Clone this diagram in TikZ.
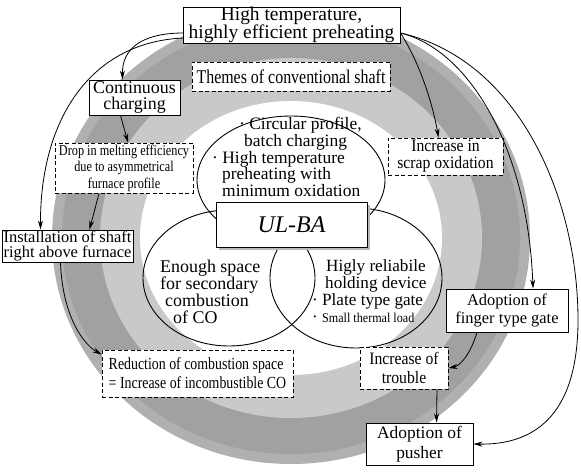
\documentclass[tikz,border=0pt]{standalone}
\usepackage{fontspec}
\setmainfont{Liberation Serif}
\newfontfamily\condA[FakeStretch=0.82]{Liberation Serif}
\newfontfamily\condB[FakeStretch=0.9]{Liberation Serif}
\usetikzlibrary{arrows.meta,calc}
\newcommand\myfs[2]{\fontsize{#1}{#2}\selectfont}
\begin{document}
\begin{tikzpicture}[x=1bp,y=-1bp,
  solidbox/.style={draw,line width=0.9bp,fill=white,inner sep=0pt,align=center},
  dashbox/.style={draw,dash pattern=on 4bp off 2.5bp,line width=0.9bp,fill=white,inner sep=0pt,align=center},
  arr/.style={-{Stealth[length=9bp,width=5bp]},line width=0.8bp},
  venn/.style={line width=0.9bp},
  vtext/.style={anchor=west,inner sep=0pt,align=left},
]
\useasboundingbox (0,0) rectangle (581,473);
\fill[white] (0,0) rectangle (581,473);
% rings
\fill[gray!62] (291,238) ellipse [x radius=239,y radius=226];
\fill[gray!74] (291,238) ellipse [x radius=229,y radius=216];
\fill[gray!42] (291,238) ellipse [x radius=191,y radius=180];
\fill[white] (291,238) ellipse [x radius=151,y radius=137];
% Venn
\draw[venn] (291,180) ellipse [x radius=94,y radius=64];
\draw[venn] (229,278) ellipse [x radius=86,y radius=68];
\draw[venn] (356,278) ellipse [x radius=86,y radius=70];
% UL-BA
\fill[gray!55] (219,205) rectangle (370,250);
\node[solidbox,minimum width=151bp,minimum height=45bp,font=\itshape\myfs{24}{24}] (ulba) at (291.5,224.5) {UL-BA};
% Venn texts
\node[vtext,font=\myfs{17.5}{15.8}] (vt) at (212,157) {\hspace*{27bp}· Circular profile,\\\hspace*{32bp}batch charging\\· High temperature\\\hspace*{10bp}preheating with\\\hspace*{10bp}minimum oxidation};
\node[vtext,font=\myfs{18}{17}] (vl) at (160,292) {Enough space\\for secondary\\\hspace*{5bp}combustion\\\hspace*{13bp}of CO};
\node[vtext,font=\myfs{17.2}{17}] (vr) at (312,291) {\hspace*{14bp}Higly reliabile\\\hspace*{13bp}holding device\\· Plate type gate\\· {\condB\myfs{13.5}{17}Small thermal load}};
% boxes
\node[solidbox,minimum width=217bp,minimum height=36bp,font=\myfs{19.5}{18}] (top) at (291.5,25) {High temperature,\\highly efficient preheating};
\node[dashbox,minimum width=198bp,minimum height=29bp,font=\condA\myfs{19.5}{19}] (themes) at (291,76.5) {Themes of conventional shaft};
\node[solidbox,minimum width=91bp,minimum height=35bp,font=\myfs{18}{17}] (cont) at (134.5,97.5) {Continuous\\charging};
\node[dashbox,minimum width=138bp,minimum height=50bp,font=\condA\myfs{15}{16.5}] (drop) at (124,168) {Drop in melting efficiency\\due to asymmetrical\\furnace profile};
\node[solidbox,minimum width=131bp,minimum height=32bp,font=\myfs{16.5}{16}] (inst) at (67.5,246) {Installation of shaft\\right above furnace};
\node[dashbox,minimum width=115bp,minimum height=37bp,font=\condB\myfs{17.5}{17}] (scrap) at (445.5,156.5) {Increase in\\scrap oxidation};
\node[solidbox,minimum width=122bp,minimum height=43bp,font=\myfs{16.5}{19}] (finger) at (507,310.5) {Adoption of\\finger type gate};
\node[dashbox,minimum width=88bp,minimum height=42bp,font=\condB\myfs{17.5}{19}] (trouble) at (404,368) {Increase of\\trouble};
\node[solidbox,minimum width=107bp,minimum height=42bp,font=\myfs{17.5}{20}] (pusher) at (419.5,444) {Adoption of\\pusher};
\node[dashbox,minimum width=191bp,minimum height=47bp,font=\condA\myfs{17}{19},align=left] (red) at (197.5,373.5) {Reduction of combustion space\\= Increase of incombustible CO};
% arrows left
\draw[arr] ($(top.west)+(1,8)$) .. controls (140,33) and (122,50) .. ($(cont.north)+(-12,0)$);
\draw[arr] ($(top.west)+(1,13)$) .. controls (90,42) and (40,120) .. ($(inst.north)+(-27,0)$);
\draw[arr] ($(cont.south)+(-14,0)$) -- ($(drop.north)+(4,0)$);
\draw[arr] ($(drop.south)+(-25,0)$) -- ($(inst.north)+(22,0)$);
\draw[arr] ($(inst.south)+(-7,0)$) .. controls (62,310) and (80,342) .. ($(red.north west)+(0,5)$);
% arrows right
\draw[arr] ($(top.east)+(0,8)$) .. controls (418,60) and (432,100) .. ($(scrap.north)+(-7,0)$);
\draw[arr] ($(top.east)+(0,8)$) .. controls (470,50) and (528,150) .. ($(finger.north)+(26,0)$);
\draw[arr] ($(top.east)+(0,8)$) .. controls (520,60) and (578,200) .. (578,320) .. controls (578,420) and (530,445) .. (pusher.east);
\draw[arr] ($(finger.south)+(-30,0)$) .. controls (470,355) and (460,366) .. (trouble.east);
\draw[arr] ($(trouble.south)+(33,0)$) -- ($(pusher.north)+(17,0)$);
\end{tikzpicture}
\end{document}
